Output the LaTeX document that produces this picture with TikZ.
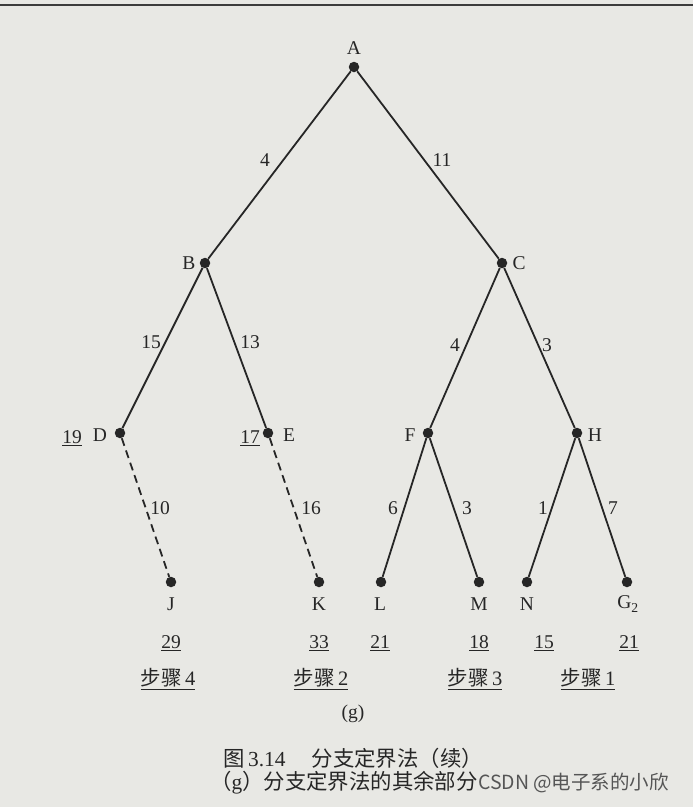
\documentclass[tikz,border=0pt]{standalone}
\usepackage{fontspec}
\setmainfont{Liberation Serif}
\newfontfamily\cjk{Noto Sans CJK SC}
\definecolor{bg}{RGB}{232,232,228}
\definecolor{ink}{RGB}{38,38,38}
\definecolor{wm}{RGB}{85,85,85}
\begin{document}
\begin{tikzpicture}[x=1pt,y=-1pt,
  dot/.style={circle,fill=ink,draw=none,inner sep=0pt,minimum size=10.5pt},
  edge/.style={draw=ink,line width=1.8pt},
  dashedge/.style={draw=ink,line width=1.8pt,dash pattern=on 8pt off 5pt},
  lbl/.style={text=ink,inner sep=0pt,font=\fontsize{19.5}{22}\selectfont},
  steplbl/.style={text=ink,inner sep=0pt,font=\fontsize{20.5}{23}\selectfont},
  captxt/.style={text=ink,inner sep=0pt,font=\fontsize{21.4}{25}\selectfont}]
\useasboundingbox (0,0) rectangle (693,807);
\fill[bg] (0,0) rectangle (693,807);
\draw[ink!90,line width=2.5pt] (0,5) -- (693,5);
% tree nodes
\node[dot] (A) at (354,67) {};
\node[dot] (B) at (205,263) {};
\node[dot] (C) at (502,263) {};
\node[dot] (D) at (120,433) {};
\node[dot] (E) at (268,433) {};
\node[dot] (F) at (428,433) {};
\node[dot] (H) at (577,433) {};
\node[dot] (J) at (171,582) {};
\node[dot] (K) at (319,582) {};
\node[dot] (L) at (381,582) {};
\node[dot] (M) at (479,582) {};
\node[dot] (N) at (527,582) {};
\node[dot] (G) at (627,582) {};
% edges
\draw[edge] (A) -- (B);
\draw[edge] (A) -- (C);
\draw[edge] (B) -- (D);
\draw[edge] (B) -- (E);
\draw[edge] (C) -- (F);
\draw[edge] (C) -- (H);
\draw[dashedge] (D) -- (J);
\draw[dashedge] (E) -- (K);
\draw[edge] (F) -- (L);
\draw[edge] (F) -- (M);
\draw[edge] (H) -- (N);
\draw[edge] (H) -- (G);
% edge weights
\node[lbl] (wAB) at (265,160) {4};
\node[lbl] (wAC) at (442,160) {11};
\node[lbl] (wBD) at (151,342) {15};
\node[lbl] (wBE) at (250,342) {13};
\node[lbl] (wCF) at (455,345) {4};
\node[lbl] (wCH) at (547,345) {3};
\node[lbl] (wDJ) at (160,508) {10};
\node[lbl] (wEK) at (311,508) {16};
\node[lbl] (wFL) at (393,508) {6};
\node[lbl] (wFM) at (467,508) {3};
\node[lbl] (wHN) at (543,508) {1};
\node[lbl] (wHG) at (613,508) {7};
% vertex letters
\node[lbl] (tA) at (354,48) {A};
\node[lbl] (tB) at (189,263) {B};
\node[lbl] (tC) at (519,263) {C};
\node[lbl] (tD) at (100,435) {D};
\node[lbl] (tE) at (289,435) {E};
\node[lbl] (tF) at (410,435) {F};
\node[lbl] (tH) at (595,435) {H};
\node[lbl] (tJ) at (171,604) {J};
\node[lbl] (tK) at (319,604) {K};
\node[lbl] (tL) at (380,604) {L};
\node[lbl] (tM) at (479,604) {M};
\node[lbl] (tN) at (527,604) {N};
\node[lbl] (tG) at (628,604) {G\textsubscript{2}};
% bounds
\node[lbl] (bD) at (72,438) {\underline{19}};
\node[lbl] (bE) at (250,438) {\underline{17}};
\node[lbl] (bJ) at (171,643) {\underline{29}};
\node[lbl] (bK) at (319,643) {\underline{33}};
\node[lbl] (bL) at (380,643) {\underline{21}};
\node[lbl] (bM) at (479,643) {\underline{18}};
\node[lbl] (bN) at (544,643) {\underline{15}};
\node[lbl] (bG) at (629,643) {\underline{21}};
% steps
\node[steplbl] (s4) at (168,679) {\underline{{\cjk 步骤}\,4}};
\node[steplbl] (s2) at (321,679) {\underline{{\cjk 步骤}\,2}};
\node[steplbl] (s3) at (475,679) {\underline{{\cjk 步骤}\,3}};
\node[steplbl] (s1) at (588,679) {\underline{{\cjk 步骤}\,1}};
% captions
\node[lbl] (g) at (353,714) {(g)};
\node[captxt,anchor=west] (cap1) at (223,758) {{\cjk 图}\,3.14\hspace{26pt}{\cjk 分支定界法（续）}};
\node[captxt,anchor=west] (cap2) at (210,783) {{\cjk （}g{\cjk ）分支定界法的其余部分}};
\node[text=wm,inner sep=0pt,anchor=west,font=\fontsize{19.5}{22}\selectfont\cjk] (wmk) at (cap2.east) {CSDN @电子系的小欣};
\end{tikzpicture}
\end{document}
